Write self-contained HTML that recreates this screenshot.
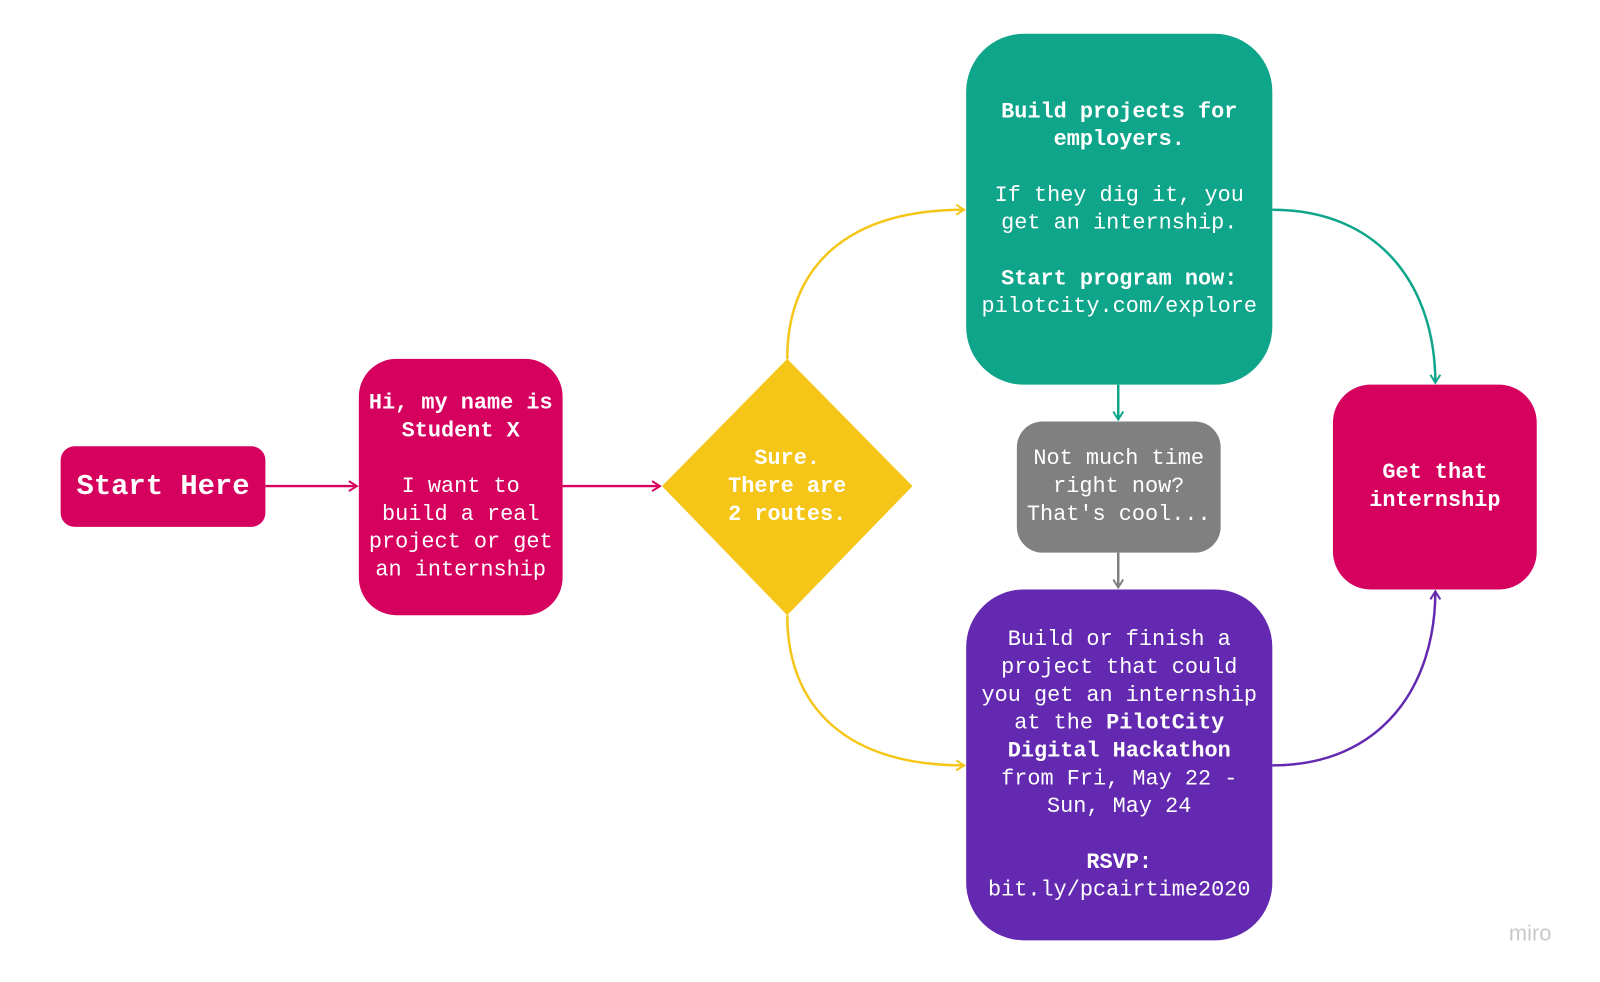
<!DOCTYPE html>
<html><head><meta charset="utf-8"><style>
body{margin:0;width:1600px;height:982px;background:#fff;position:relative;overflow:hidden;font-family:"Liberation Mono",monospace;color:#fff}
#w{position:absolute;left:0;top:0;width:1600px;height:982px;transform:scale(0.994);transform-origin:0 0}
.b{position:absolute;display:flex;align-items:center;justify-content:center;text-align:center;font-size:22px;line-height:28px;box-sizing:border-box}
b{font-weight:bold}
svg{position:absolute;left:0;top:0}
</style></head><body><div id="w">
<svg width="1600" height="982">
<defs>
<marker id="ap" markerWidth="12" markerHeight="12" refX="10" refY="6" orient="auto" markerUnits="userSpaceOnUse"><path d="M2 1 L10 6 L2 11" fill="none" stroke="#D6005F" stroke-width="2"/></marker>
<marker id="ay" markerWidth="12" markerHeight="12" refX="10" refY="6" orient="auto" markerUnits="userSpaceOnUse"><path d="M2 1 L10 6 L2 11" fill="none" stroke="#F5C518" stroke-width="2"/></marker>
<marker id="at" markerWidth="12" markerHeight="12" refX="10" refY="6" orient="auto" markerUnits="userSpaceOnUse"><path d="M2 1 L10 6 L2 11" fill="none" stroke="#0FA58A" stroke-width="2"/></marker>
<marker id="ag" markerWidth="12" markerHeight="12" refX="10" refY="6" orient="auto" markerUnits="userSpaceOnUse"><path d="M2 1 L10 6 L2 11" fill="none" stroke="#808080" stroke-width="2"/></marker>
<marker id="au" markerWidth="12" markerHeight="12" refX="10" refY="6" orient="auto" markerUnits="userSpaceOnUse"><path d="M2 1 L10 6 L2 11" fill="none" stroke="#6429B1" stroke-width="2"/></marker>
</defs>
<g fill="none" stroke-width="2.5">
<path d="M267 489 L359 489" stroke="#D6005F" marker-end="url(#ap)"/>
<path d="M566 489 L664 489" stroke="#D6005F" marker-end="url(#ap)"/>
<path d="M792 361 C792 270 850 211 970 211" stroke="#F5C518" marker-end="url(#ay)"/>
<path d="M792 619 C792 710 850 770 970 770" stroke="#F5C518" marker-end="url(#ay)"/>
<path d="M1280 211 C1390 211 1444 290 1444 385" stroke="#0FA58A" marker-end="url(#at)"/>
<path d="M1280 770 C1390 770 1444 690 1444 595" stroke="#6429B1" marker-end="url(#au)"/>
<path d="M1125 387 L1125 422" stroke="#0FA58A" marker-end="url(#at)"/>
<path d="M1125 556 L1125 591" stroke="#808080" marker-end="url(#ag)"/>
</g>
<polygon points="792,361 918,489 792,619 666,489" fill="#F5C518"/>
</svg>
<div class="b" style="left:61px;top:449px;width:206px;height:81px;background:#D6005F;border-radius:14px;font-size:29px;font-weight:bold">Start Here</div>
<div class="b" style="left:361px;top:361px;width:205px;height:258px;background:#D6005F;border-radius:38px"><div><b>Hi, my name is<br>Student X</b><br><br>I want to<br>build a real<br>project or get<br>an internship</div></div>
<div class="b" style="left:692px;top:430px;width:200px;height:120px;font-weight:bold">Sure.<br>There are<br>2 routes.</div>
<div class="b" style="left:972px;top:34px;width:308px;height:353px;background:#0FA58A;border-radius:58px"><div><b>Build projects for<br>employers.</b><br><br>If they dig it, you<br>get an internship.<br><br><b>Start program now:</b><br>pilotcity.com/explore</div></div>
<div class="b" style="left:1023px;top:424px;width:205px;height:132px;background:#808080;border-radius:26px">Not much time<br>right now?<br>That's cool...</div>
<div class="b" style="left:972px;top:593px;width:308px;height:353px;background:#6429B1;border-radius:58px"><div>Build or finish a<br>project that could<br>you get an internship<br>at the <b>PilotCity<br>Digital Hackathon</b><br>from Fri, May 22 -<br>Sun, May 24<br><br><b>RSVP:</b><br>bit.ly/pcairtime2020</div></div>
<div class="b" style="left:1341px;top:387px;width:205px;height:206px;background:#D6005F;border-radius:38px;font-weight:bold">Get that<br>internship</div>
<div style="position:absolute;left:1518px;top:926px;font-family:'Liberation Sans',sans-serif;font-size:22px;color:#c8c8c8">miro</div>
</div></body></html>
